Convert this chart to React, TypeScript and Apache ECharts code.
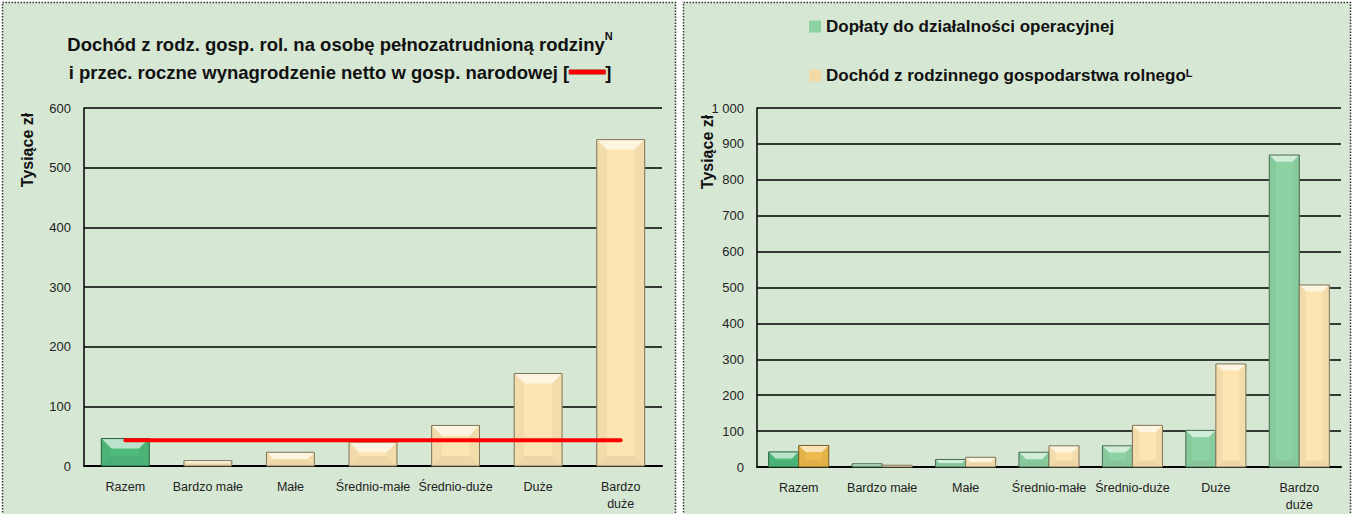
import React, { useEffect, useRef } from "react";
import * as echarts from "echarts";

const categories = ["Razem", "Bardzo małe", "Małe", "Średnio-małe", "Średnio-duże", "Duże", "Bardzo\nduże"];
const incomePerPerson = [46, 9, 23, 40, 68, 155, 547];
const netWage = [43, 43, 43, 43, 43, 43, 43];
const subsidies = [42, 9, 21, 41, 59, 102, 869];
const farmIncome = [60, 5, 27, 59, 116, 287, 507];
const leftMax = 600;
const rightMax = 1000;
const tickStep = 100;

const FONT = "'Liberation Sans', Arial, sans-serif";
const BG = "#d6e7d4";

function hexToRgb(h: string) {
  const n = parseInt(h.slice(1), 16);
  return [(n >> 16) & 255, (n >> 8) & 255, n & 255];
}
function mix(h: string, target: string, t: number) {
  const a = hexToRgb(h);
  const b = hexToRgb(target);
  const c = a.map((v, i) => Math.round(v + (b[i] - v) * t));
  return `rgb(${c[0]},${c[1]},${c[2]})`;
}

function bevel(colorOf: (i: number) => string, widthFrac: number, offsetFrac: number) {
  return (params: any, api: any) => {
    const idx = api.value(0);
    const v = api.value(1);
    const top = api.coord([idx, v]);
    const base = api.coord([idx, 0]);
    const cw = api.size([1, 0])[0];
    const w = cw * widthFrac;
    const x = top[0] + cw * offsetFrac - w / 2;
    const y = top[1];
    const h = base[1] - top[1];
    const c = colorOf(params.dataIndex);
    const b = Math.max(0, Math.min(10, w * 0.22, h / 2));
    const light = mix(c, "#ffffff", 0.6);
    const side = mix(c, "#000000", 0.04);
    const bottom = mix(c, "#000000", 0.06);
    const edge = mix(c, "#000000", 0.5);
    return {
      type: "group",
      children: [
        { type: "rect", shape: { x, y, width: w, height: h }, style: { fill: c } },
        { type: "polygon", shape: { points: [[x, y], [x + w, y], [x + w - b, y + b], [x + b, y + b]] }, style: { fill: light } },
        { type: "polygon", shape: { points: [[x, y], [x + b, y + b], [x + b, y + h - b], [x, y + h]] }, style: { fill: side } },
        { type: "polygon", shape: { points: [[x + w, y], [x + w - b, y + b], [x + w - b, y + h - b], [x + w, y + h]] }, style: { fill: side } },
        { type: "polygon", shape: { points: [[x, y + h], [x + b, y + h - b], [x + w - b, y + h - b], [x + w, y + h]] }, style: { fill: bottom } },
        { type: "rect", shape: { x, y, width: w, height: h }, style: { fill: "none", stroke: edge, lineWidth: 1 } },
      ],
    };
  };
}

const TAN = "#fce5b2";
const GREEN_DARK = "#4fba7c";
const GREEN_LIGHT = "#8dd2a3";
const GOLD = "#ecb94c";

function yAxis(gridIndex: number, max: number) {
  return {
    type: "value",
    gridIndex,
    min: 0,
    max,
    interval: tickStep,
    axisLine: { show: true, lineStyle: { color: "#000", width: 1.5 } },
    axisTick: { show: false },
    splitLine: { show: true, lineStyle: { color: "#000", width: 1.5 } },
    axisLabel: {
      color: "#222",
      fontSize: 13,
      fontFamily: FONT,
      margin: 13,
      formatter: (v: number) => (v >= 1000 ? String(v).replace(/\B(?=(\d{3})+(?!\d))/g, " ") : String(v)),
    },
  };
}
function xAxis(gridIndex: number) {
  return {
    type: "category",
    gridIndex,
    data: categories,
    axisLine: { show: true, lineStyle: { color: "#000", width: 2 } },
    axisTick: { show: false },
    axisLabel: { interval: 0, color: "#222", fontSize: 12.5, fontFamily: FONT, margin: 12, lineHeight: 17 },
  };
}

export default function App() {
  const ref = useRef<HTMLDivElement>(null);
  useEffect(() => {
    document.body.style.margin = "0";
    const chart = echarts.init(ref.current!, undefined, { renderer: "svg" });
    const option: any = {
      animation: false,
      backgroundColor: "#ffffff",
      textStyle: { fontFamily: FONT },
      grid: [
        { left: 84, top: 108, width: 578, height: 358 },
        { left: 757, top: 108, width: 584, height: 359 },
      ],
      xAxis: [xAxis(0), xAxis(1)],
      yAxis: [yAxis(0, leftMax), yAxis(1, rightMax)],
      legend: [
        {
          left: 809, top: 18, padding: 0, itemWidth: 12, itemHeight: 12, itemGap: 4, icon: "rect",
          data: ["Dopłaty do działalności operacyjnej"],
          textStyle: { fontSize: 17, fontWeight: "bold", color: "#111", fontFamily: FONT },
        },
        {
          left: 809, top: 67, padding: 0, itemWidth: 12, itemHeight: 12, itemGap: 4, icon: "rect",
          data: ["Dochód z rodzinnego gospodarstwa rolnego"],
          formatter: (n: string) => `{b|${n}}{s|L}`,
          textStyle: {
            fontSize: 17, fontWeight: "bold", color: "#111", fontFamily: FONT,
            rich: {
              b: { fontSize: 17, fontWeight: "bold", color: "#111", fontFamily: FONT },
              s: { fontSize: 11, fontWeight: "bold", color: "#111", fontFamily: FONT, verticalAlign: "top", padding: [0, 0, 5, 0] },
            },
          },
        },
      ],
      graphic: [
        { type: "rect", z: -100, silent: true, shape: { x: 2.5, y: 2.5, width: 673, height: 530 }, style: { fill: BG, stroke: "#333", lineWidth: 1.5, lineDash: [1.5, 1.5] } },
        { type: "rect", z: -100, silent: true, shape: { x: 683.5, y: 2.5, width: 667, height: 530 }, style: { fill: BG, stroke: "#333", lineWidth: 1.5, lineDash: [1.5, 1.5] } },
        {
          type: "text", z: 10, x: 340, y: 58,
          style: {
            text: "{b|Dochód z rodz. gosp. rol. na osobę pełnozatrudnioną rodziny}{s|N}\n{b|i przec. roczne wynagrodzenie netto w gosp. narodowej [}{r| }{b|]}",
            align: "center", verticalAlign: "middle", lineHeight: 28,
            rich: {
              b: { fontSize: 18.5, fontWeight: "bold", fill: "#111", fontFamily: FONT, lineHeight: 28 },
              s: { fontSize: 11, fontWeight: "bold", fill: "#111", fontFamily: FONT, verticalAlign: "top", padding: [0, 0, 3, 0] },
              r: { width: 36, height: 4, backgroundColor: "#ff0000", fontSize: 4, lineHeight: 4, borderColor: "#a00000", borderWidth: 0.5 },
            },
          },
        },
        { type: "text", z: 10, x: 27, y: 150, rotation: Math.PI / 2, style: { text: "Tysiące zł", fontSize: 16, fontWeight: "bold", fill: "#111", fontFamily: FONT, align: "center", verticalAlign: "middle" } },
        { type: "text", z: 10, x: 707, y: 152, rotation: Math.PI / 2, style: { text: "Tysiące zł", fontSize: 16, fontWeight: "bold", fill: "#111", fontFamily: FONT, align: "center", verticalAlign: "middle" } },
      ],
      series: [
        {
          type: "custom", name: "Dochód na osobę", xAxisIndex: 0, yAxisIndex: 0,
          encode: { x: 0, y: 1 },
          data: incomePerPerson.map((v, i) => [i, v]),
          renderItem: bevel((i) => (i === 0 ? GREEN_DARK : TAN), 0.58, 0),
        },
        {
          type: "line", name: "Wynagrodzenie netto", xAxisIndex: 0, yAxisIndex: 0, z: 5,
          data: netWage, symbol: "none",
          lineStyle: { color: "#ff0000", width: 4, cap: "round" },
        },
        {
          type: "custom", name: "Dopłaty do działalności operacyjnej", xAxisIndex: 1, yAxisIndex: 1,
          encode: { x: 0, y: 1 },
          itemStyle: { color: GREEN_LIGHT },
          data: subsidies.map((v, i) => [i, v]),
          renderItem: bevel((i) => (i === 0 ? GREEN_DARK : GREEN_LIGHT), 0.36, -0.18),
        },
        {
          type: "custom", name: "Dochód z rodzinnego gospodarstwa rolnego", xAxisIndex: 1, yAxisIndex: 1,
          encode: { x: 0, y: 1 },
          itemStyle: { color: "#f3d9a4" },
          data: farmIncome.map((v, i) => [i, v]),
          renderItem: bevel((i) => (i === 0 ? GOLD : TAN), 0.36, 0.18),
        },
      ],
    };
    chart.setOption(option);
    return () => chart.dispose();
  }, []);
  return <div ref={ref} style={{ width: 1354, height: 514 }} />;
}
